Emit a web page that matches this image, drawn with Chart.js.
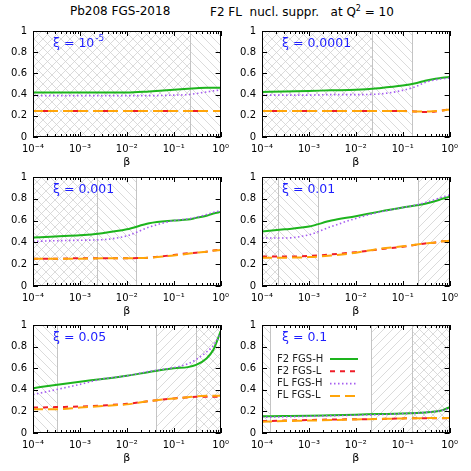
<!DOCTYPE html>
<html>
<head>
<meta charset="utf-8">
<script src="https://cdn.jsdelivr.net/npm/chart.js@4.4.1/dist/chart.umd.min.js"></script>
<style>
  body { margin: 0; background: #fff; width: 471px; height: 471px; position: relative; overflow: hidden; font-family: "DejaVu Sans", sans-serif; }
  canvas { position: absolute; }
  .ttl { position: absolute; top: 4px; font-size: 12px; white-space: pre; color: #000; }
  .ttl sup { font-size: 8px; }
</style>
</head>
<body>
<div class="ttl" style="left:70px">Pb208 FGS-2018</div>
<div class="ttl" style="left:210px">F2 FL  nucl. suppr.   at Q<sup>2</sup> = 10</div>
<script>
const betas = [1e-4, 3e-4, 1e-3, 3e-3, 0.01, 0.03, 0.1, 0.2, 0.3, 0.5, 0.7, 1];
const xiLabels = ["10^-5", "0.0001", "0.001", "0.01", "0.05", "0.1"];
const seriesNames = ["F2 FGS-H", "F2 FGS-L", "FL FGS-H", "FL FGS-L"];
const xTicks = [1e-4, 1e-3, 1e-2, 1e-1, 1];
const yTicks = [0, 0.2, 0.4, 0.6, 0.8, 1];

// one array per panel (xi = 1e-5, 1e-4, 0.001, 0.01, 0.05, 0.1)
const f2FgsH = [
  [0.42, 0.42, 0.42, 0.42, 0.42, 0.43, 0.445, 0.455, 0.46, 0.465, 0.465, 0.465],
  [0.425, 0.43, 0.435, 0.44, 0.445, 0.46, 0.485, 0.51, 0.53, 0.55, 0.56, 0.565],
  [0.445, 0.455, 0.465, 0.485, 0.52, 0.575, 0.60, 0.61, 0.625, 0.645, 0.665, 0.68],
  [0.50, 0.52, 0.545, 0.60, 0.64, 0.68, 0.72, 0.74, 0.755, 0.78, 0.80, 0.82],
  [0.415, 0.445, 0.475, 0.50, 0.53, 0.565, 0.60, 0.61, 0.63, 0.69, 0.77, 0.94],
  [0.155, 0.157, 0.16, 0.165, 0.17, 0.175, 0.18, 0.185, 0.19, 0.20, 0.21, 0.24]
];
const f2FgsL = [
  [0.245, 0.245, 0.245, 0.245, 0.245, 0.245, 0.245, 0.245, 0.245, 0.245, 0.245, 0.245],
  [0.245, 0.245, 0.245, 0.245, 0.245, 0.245, 0.245, 0.24, 0.235, 0.24, 0.25, 0.26],
  [0.25, 0.25, 0.255, 0.255, 0.255, 0.26, 0.285, 0.30, 0.305, 0.315, 0.325, 0.335],
  [0.27, 0.27, 0.275, 0.29, 0.31, 0.335, 0.36, 0.38, 0.39, 0.40, 0.41, 0.415],
  [0.235, 0.24, 0.245, 0.255, 0.27, 0.295, 0.32, 0.33, 0.335, 0.335, 0.335, 0.335],
  [0.11, 0.115, 0.12, 0.125, 0.127, 0.13, 0.135, 0.137, 0.137, 0.137, 0.137, 0.137]
];
const flFgsH = [
  [0.39, 0.39, 0.39, 0.39, 0.39, 0.39, 0.395, 0.40, 0.41, 0.425, 0.435, 0.445],
  [0.395, 0.395, 0.395, 0.40, 0.40, 0.405, 0.44, 0.48, 0.515, 0.54, 0.55, 0.555],
  [0.41, 0.415, 0.42, 0.425, 0.46, 0.54, 0.60, 0.615, 0.63, 0.655, 0.675, 0.69],
  [0.44, 0.44, 0.47, 0.545, 0.62, 0.675, 0.72, 0.745, 0.765, 0.795, 0.815, 0.835],
  [0.355, 0.40, 0.45, 0.50, 0.53, 0.57, 0.605, 0.64, 0.68, 0.75, 0.81, 0.92],
  [0.145, 0.15, 0.155, 0.16, 0.165, 0.17, 0.18, 0.185, 0.19, 0.20, 0.21, 0.23]
];
const flFgsL = [
  [0.245, 0.245, 0.245, 0.245, 0.245, 0.245, 0.245, 0.245, 0.245, 0.245, 0.245, 0.245],
  [0.245, 0.245, 0.245, 0.245, 0.245, 0.245, 0.245, 0.24, 0.24, 0.245, 0.25, 0.26],
  [0.25, 0.25, 0.25, 0.255, 0.255, 0.26, 0.28, 0.295, 0.305, 0.315, 0.325, 0.33],
  [0.26, 0.26, 0.265, 0.28, 0.305, 0.34, 0.365, 0.38, 0.39, 0.40, 0.41, 0.415],
  [0.22, 0.22, 0.235, 0.25, 0.265, 0.295, 0.32, 0.33, 0.34, 0.345, 0.345, 0.345],
  [0.105, 0.11, 0.115, 0.12, 0.125, 0.13, 0.135, 0.137, 0.138, 0.14, 0.14, 0.14]
];

// hatched beta ranges: x = cross, b = "\", f = "/"
const hatchRanges = [
  [[1e-4, 0.224, "x"], [0.224, 1, "b"]],
  [[1e-4, 0.022, "x"], [0.022, 0.16, "b"]],
  [[1e-4, 0.0023, "x"], [0.0023, 0.016, "b"]],
  [[1e-4, 2.2e-4, "x"], [2.2e-4, 1.6e-3, "b"], [0.21, 1, "f"]],
  [[1e-4, 3.2e-4, "b"], [0.042, 0.30, "f"], [0.30, 1, "x"]],
  [[1e-4, 1.5e-4, "b"], [0.021, 0.157, "f"], [0.157, 1, "x"]]
];

// plot area of each panel on the page
const boxes = [
  {left: 33, top: 31, right: 224, bottom: 137},
  {left: 262, top: 31, right: 452, bottom: 137},
  {left: 33, top: 177, right: 224, bottom: 286},
  {left: 262, top: 177, right: 452, bottom: 286},
  {left: 33, top: 325, right: 224, bottom: 433},
  {left: 262, top: 325, right: 452, bottom: 433}
];

const styles = [
  {color: "#1db41d", dash: [], width: 2, order: 4},
  {color: "#f01e28", dash: [5, 5], width: 2, order: 3},
  {color: "#a55cf0", dash: [1.5, 2.5], width: 1.6, order: 2},
  {color: "#ffa50a", dash: [10, 5], width: 2, order: 1}
];

Chart.defaults.font.family = "DejaVu Sans";
Chart.defaults.color = "#000";

const supMap = {"-": "\u207B", "0": "\u2070", "1": "\u00B9", "2": "\u00B2", "3": "\u00B3", "4": "\u2074", "5": "\u2075"};
function sup(n) {
  return String(n).split("").map(ch => supMap[ch]).join("");
}

const hatchPlugin = {
  id: "hatch",
  beforeDatasetsDraw(chart, args, opts) {
    const ctx = chart.ctx;
    const a = chart.chartArea;
    const xs = chart.scales.x;
    const h = a.bottom - a.top;
    const step = 9;
    opts.ranges.forEach(r => {
      const x0 = xs.getPixelForValue(r[0]);
      const x1 = xs.getPixelForValue(r[1]);
      ctx.save();
      ctx.beginPath();
      ctx.rect(x0, a.top, x1 - x0, h);
      ctx.clip();
      ctx.strokeStyle = "#d2d2d2";
      ctx.lineWidth = 0.8;
      ctx.beginPath();
      for (let c = a.left - h - step * 2; c < a.right + step; c += step) {
        if (r[2] === "b" || r[2] === "x") {
          ctx.moveTo(c, a.top);
          ctx.lineTo(c + h, a.bottom);
        }
        if (r[2] === "f" || r[2] === "x") {
          ctx.moveTo(c, a.bottom);
          ctx.lineTo(c + h, a.top);
        }
      }
      ctx.stroke();
      ctx.restore();
      // boundary lines
      ctx.save();
      ctx.strokeStyle = "#c4c4c4";
      ctx.lineWidth = 1;
      [r[0], r[1]].forEach(v => {
        if (v > 1e-4 * 1.01 && v < 0.99) {
          const px = Math.round(xs.getPixelForValue(v)) + 0.5;
          ctx.beginPath();
          ctx.moveTo(px, a.top);
          ctx.lineTo(px, a.bottom);
          ctx.stroke();
        }
      });
      ctx.restore();
    });
  }
};

const framePlugin = {
  id: "frame",
  afterDraw(chart, args, opts) {
    const ctx = chart.ctx;
    const a = chart.chartArea;
    const xs = chart.scales.x;
    const ys = chart.scales.y;
    ctx.save();
    ctx.strokeStyle = "#000";
    ctx.lineWidth = 1;
    ctx.strokeRect(Math.round(a.left) + 0.5, Math.round(a.top) + 0.5, Math.round(a.right - a.left) - 1, Math.round(a.bottom - a.top) - 1);
    ctx.beginPath();
    yTicks.forEach(v => {
      const py = Math.round(ys.getPixelForValue(v)) + 0.5;
      ctx.moveTo(a.left, py); ctx.lineTo(a.left + 5, py);
      ctx.moveTo(a.right, py); ctx.lineTo(a.right - 5, py);
    });
    for (let d = -4; d <= 0; d++) {
      for (let m = 1; m <= 9; m++) {
        const v = m * Math.pow(10, d);
        if (v > 1.0001) break;
        const px = Math.round(xs.getPixelForValue(v)) + 0.5;
        const len = m === 1 ? 5 : 3;
        ctx.moveTo(px, a.bottom); ctx.lineTo(px, a.bottom - len);
        ctx.moveTo(px, a.top); ctx.lineTo(px, a.top + len);
      }
    }
    ctx.stroke();
    ctx.restore();
  }
};

const labelPlugin = {
  id: "xiLabel",
  afterDatasetsDraw(chart, args, opts) {
    const ctx = chart.ctx;
    const a = chart.chartArea;
    ctx.save();
    ctx.fillStyle = "#1e1eff";
    ctx.textBaseline = "alphabetic";
    ctx.font = "12.5px 'DejaVu Sans'";
    const x = a.left + 20;
    const y = a.top + 16;
    const parts = opts.text.split("^");
    ctx.fillText("\u03BE = " + parts[0], x, y);
    if (parts[1]) {
      const w = ctx.measureText("\u03BE = " + parts[0]).width;
      ctx.font = "9px 'DejaVu Sans'";
      ctx.fillText(parts[1], x + w + 1, y - 6);
    }
    if (opts.legend) {
      ctx.font = "10px 'DejaVu Sans'";
      ctx.fillStyle = "#222";
      ctx.textBaseline = "middle";
      chart.data.datasets.forEach((ds, k) => {
        const ly = a.top + 34 + k * 12.3;
        ctx.fillText(ds.label, a.left + 15, ly);
        ctx.save();
        ctx.strokeStyle = ds.borderColor;
        ctx.lineWidth = ds.borderWidth;
        ctx.setLineDash(ds.borderDash);
        ctx.beginPath();
        ctx.moveTo(a.left + 68, ly);
        ctx.lineTo(a.left + 96, ly);
        ctx.stroke();
        ctx.restore();
      });
    }
    ctx.restore();
  }
};

const allSeries = [f2FgsH, f2FgsL, flFgsH, flFgsL];

function makePanel(i) {
  const g = boxes[i];
  const W = 235, padTop = 12, axisH = 32;
  const plotW = g.right - g.left;
  const plotH = g.bottom - g.top;
  const canvas = document.createElement("canvas");
  canvas.width = W;
  canvas.height = plotH + padTop + axisH;
  canvas.style.left = (g.left - 33) + "px";
  canvas.style.top = (g.top - padTop) + "px";
  document.body.appendChild(canvas);

  const datasets = allSeries.map((s, k) => ({
    label: seriesNames[k],
    data: betas.map((b, j) => ({x: b, y: s[i][j]})),
    borderColor: styles[k].color,
    borderDash: styles[k].dash,
    borderWidth: styles[k].width,
    order: styles[k].order,
    pointRadius: 0,
    fill: false,
    cubicInterpolationMode: "monotone"
  }));

  new Chart(canvas, {
    type: "line",
    data: {datasets: datasets},
    options: {
      responsive: false,
      animation: false,
      devicePixelRatio: 1,
      layout: {padding: {top: padTop, right: W - 33 - plotW, left: 0, bottom: 0}},
      plugins: {
        legend: {display: false},
        tooltip: {enabled: false},
        hatch: {ranges: hatchRanges[i]},
        xiLabel: {text: xiLabels[i], legend: i === 5}
      },
      scales: {
        x: {
          type: "logarithmic",
          min: 1e-4,
          max: 1,
          afterBuildTicks: s => { s.ticks = xTicks.map(v => ({value: v})); },
          afterFit: s => { s.height = axisH; },
          ticks: {
            autoSkip: false,
            maxRotation: 0,
            padding: 6,
            font: {size: 10},
            callback: v => "10" + sup(Math.round(Math.log10(v)))
          },
          grid: {display: false, drawTicks: false},
          border: {display: false},
          title: {display: true, text: "\u03B2", font: {size: 11}, padding: {top: 0, bottom: 0}}
        },
        y: {
          min: 0,
          max: 1,
          afterBuildTicks: s => { s.ticks = yTicks.map(v => ({value: v})); },
          afterFit: s => { s.width = 33; },
          ticks: {
            padding: 6,
            font: {size: 10},
            callback: v => String(Math.round(v * 10) / 10)
          },
          grid: {display: false, drawTicks: false},
          border: {display: false}
        }
      }
    },
    plugins: [hatchPlugin, framePlugin, labelPlugin]
  });
}

for (let i = 0; i < 6; i++) makePanel(i);
</script>
</body>
</html>
